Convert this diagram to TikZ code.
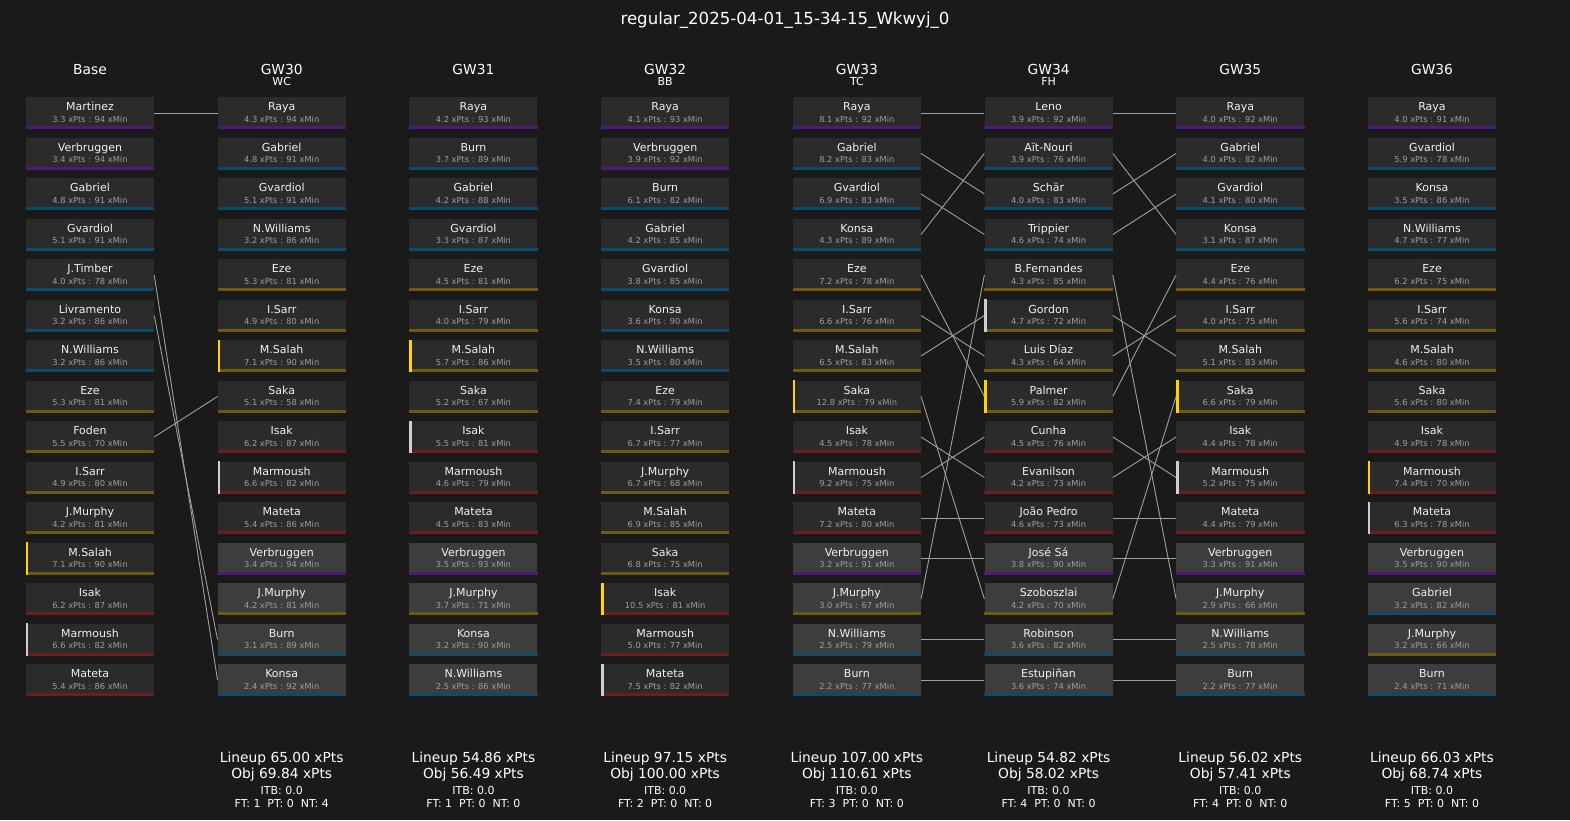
\documentclass[tikz,border=0pt]{standalone}
\usepackage{fontspec}
\setmainfont{DejaVu Sans}
\definecolor{bg}{HTML}{1A1A1A}
\definecolor{boxfill}{HTML}{2B2B2B}
\definecolor{benchfill}{HTML}{3D3D3D}
\definecolor{gk}{HTML}{4E1A7E}
\definecolor{df}{HTML}{0F4A6A}
\definecolor{md}{HTML}{6E5A0F}
\definecolor{fw}{HTML}{6E1C1C}
\definecolor{capc}{HTML}{FFD500}
\definecolor{vicec}{HTML}{CFCFCF}
\definecolor{nmc}{HTML}{F0F0F0}
\definecolor{stc}{HTML}{9E9E9E}
\definecolor{lnc}{HTML}{A0A0A0}
\newcommand{\plyr}[7]{%
  \pgfmathsetmacro\plx{90+191.714*#1}%
  \pgfmathsetmacro\ply{113+40.5*#2}%
  \node[plbox,#7] (c#1r#2) at (\plx,\ply) {};%
  \fill[#6] (c#1r#2.south west) rectangle ([yshift=2.8pt]c#1r#2.south east);%
  \node[nametxt] at ([yshift=-13.8pt]c#1r#2.north) {#3};%
  \node[stattxt] at ([yshift=-25.6pt]c#1r#2.north) {#4 xPts : #5 xMin};%
}
\newcommand{\capbar}[3]{%
  \fill[#3] (c#1r#2.north west) rectangle ([xshift=2.6pt]c#1r#2.south west);%
}
\newcommand{\foot}[5]{%
  \pgfmathsetmacro\plx{90+191.714*#1}%
  \node[ftbig] (fa#1) at (\plx,762.5) {Lineup #2 xPts};%
  \node[ftbig] (fb#1) at (\plx,778) {Obj #3 xPts};%
  \node[ftsmall] (fc#1) at (\plx,794) {ITB: 0.0};%
  \node[ftsmall] (fd#1) at (\plx,807.3) {FT: #4\ \ PT: 0\ \ NT: #5};%
}
\begin{document}
\begin{tikzpicture}[x=1pt,y=-1pt,
  plbox/.style={rectangle,minimum width=128pt,minimum height=32pt,inner sep=0pt,fill=boxfill,draw=none},
  bench/.style={fill=benchfill},
  nametxt/.style={anchor=base,inner sep=0pt,text=nmc,font=\fontsize{11}{13}\selectfont},
  stattxt/.style={anchor=base,inner sep=0pt,text=stc,font=\fontsize{8.3}{10}\selectfont},
  hdr/.style={anchor=base,inner sep=0pt,text=white,font=\fontsize{13.8}{16}\selectfont},
  subhdr/.style={anchor=base,inner sep=0pt,text=white,font=\fontsize{11}{13}\selectfont},
  ftbig/.style={anchor=base,inner sep=0pt,text=white,font=\fontsize{13.8}{16}\selectfont},
  ftsmall/.style={anchor=base,inner sep=0pt,text=white,font=\fontsize{11}{13}\selectfont},
  conn/.style={draw=lnc,line width=0.9pt}]
\fill[bg] (0,0) rectangle (1570,820);
\useasboundingbox (0,0) rectangle (1570,820);
\node[anchor=base,inner sep=0pt,text=white,font=\fontsize{16.6}{19}\selectfont] (title) at (785,24) {regular\_2025-04-01\_15-34-15\_Wkwyj\_0};
% headers
\node[hdr] (h0) at (90,74) {Base};
\node[hdr] (h1) at (281.7,74) {GW30};
\node[hdr] (h2) at (473.4,74) {GW31};
\node[hdr] (h3) at (665.1,74) {GW32};
\node[hdr] (h4) at (856.9,74) {GW33};
\node[hdr] (h5) at (1048.6,74) {GW34};
\node[hdr] (h6) at (1240.3,74) {GW35};
\node[hdr] (h7) at (1432,74) {GW36};
\node[subhdr] (s1) at (281.7,85) {WC};
\node[subhdr] (s3) at (665.1,85) {BB};
\node[subhdr] (s4) at (856.9,85) {TC};
\node[subhdr] (s5) at (1048.6,85) {FH};
% column 0
\plyr{0}{0}{Martinez}{3.3}{94}{gk}{}
\plyr{0}{1}{Verbruggen}{3.4}{94}{gk}{}
\plyr{0}{2}{Gabriel}{4.8}{91}{df}{}
\plyr{0}{3}{Gvardiol}{5.1}{91}{df}{}
\plyr{0}{4}{J.Timber}{4.0}{78}{df}{}
\plyr{0}{5}{Livramento}{3.2}{86}{df}{}
\plyr{0}{6}{N.Williams}{3.2}{86}{df}{}
\plyr{0}{7}{Eze}{5.3}{81}{md}{}
\plyr{0}{8}{Foden}{5.5}{70}{md}{}
\plyr{0}{9}{I.Sarr}{4.9}{80}{md}{}
\plyr{0}{10}{J.Murphy}{4.2}{81}{md}{}
\plyr{0}{11}{M.Salah}{7.1}{90}{md}{}
\plyr{0}{12}{Isak}{6.2}{87}{fw}{}
\plyr{0}{13}{Marmoush}{6.6}{82}{fw}{}
\plyr{0}{14}{Mateta}{5.4}{86}{fw}{}
\capbar{0}{11}{capc}\capbar{0}{13}{vicec}
% column 1
\plyr{1}{0}{Raya}{4.3}{94}{gk}{}
\plyr{1}{1}{Gabriel}{4.8}{91}{df}{}
\plyr{1}{2}{Gvardiol}{5.1}{91}{df}{}
\plyr{1}{3}{N.Williams}{3.2}{86}{df}{}
\plyr{1}{4}{Eze}{5.3}{81}{md}{}
\plyr{1}{5}{I.Sarr}{4.9}{80}{md}{}
\plyr{1}{6}{M.Salah}{7.1}{90}{md}{}
\plyr{1}{7}{Saka}{5.1}{58}{md}{}
\plyr{1}{8}{Isak}{6.2}{87}{fw}{}
\plyr{1}{9}{Marmoush}{6.6}{82}{fw}{}
\plyr{1}{10}{Mateta}{5.4}{86}{fw}{}
\plyr{1}{11}{Verbruggen}{3.4}{94}{gk}{bench}
\plyr{1}{12}{J.Murphy}{4.2}{81}{md}{bench}
\plyr{1}{13}{Burn}{3.1}{89}{df}{bench}
\plyr{1}{14}{Konsa}{2.4}{92}{df}{bench}
\capbar{1}{6}{capc}\capbar{1}{9}{vicec}
% column 2
\plyr{2}{0}{Raya}{4.2}{93}{gk}{}
\plyr{2}{1}{Burn}{3.7}{89}{df}{}
\plyr{2}{2}{Gabriel}{4.2}{88}{df}{}
\plyr{2}{3}{Gvardiol}{3.3}{87}{df}{}
\plyr{2}{4}{Eze}{4.5}{81}{md}{}
\plyr{2}{5}{I.Sarr}{4.0}{79}{md}{}
\plyr{2}{6}{M.Salah}{5.7}{86}{md}{}
\plyr{2}{7}{Saka}{5.2}{67}{md}{}
\plyr{2}{8}{Isak}{5.5}{81}{fw}{}
\plyr{2}{9}{Marmoush}{4.6}{79}{fw}{}
\plyr{2}{10}{Mateta}{4.5}{83}{fw}{}
\plyr{2}{11}{Verbruggen}{3.5}{93}{gk}{bench}
\plyr{2}{12}{J.Murphy}{3.7}{71}{md}{bench}
\plyr{2}{13}{Konsa}{3.2}{90}{df}{bench}
\plyr{2}{14}{N.Williams}{2.5}{86}{df}{bench}
\capbar{2}{6}{capc}\capbar{2}{8}{vicec}
% column 3
\plyr{3}{0}{Raya}{4.1}{93}{gk}{}
\plyr{3}{1}{Verbruggen}{3.9}{92}{gk}{}
\plyr{3}{2}{Burn}{6.1}{82}{df}{}
\plyr{3}{3}{Gabriel}{4.2}{85}{df}{}
\plyr{3}{4}{Gvardiol}{3.8}{85}{df}{}
\plyr{3}{5}{Konsa}{3.6}{90}{df}{}
\plyr{3}{6}{N.Williams}{3.5}{80}{df}{}
\plyr{3}{7}{Eze}{7.4}{79}{md}{}
\plyr{3}{8}{I.Sarr}{6.7}{77}{md}{}
\plyr{3}{9}{J.Murphy}{6.7}{68}{md}{}
\plyr{3}{10}{M.Salah}{6.9}{85}{md}{}
\plyr{3}{11}{Saka}{6.8}{75}{md}{}
\plyr{3}{12}{Isak}{10.5}{81}{fw}{}
\plyr{3}{13}{Marmoush}{5.0}{77}{fw}{}
\plyr{3}{14}{Mateta}{7.5}{82}{fw}{}
\capbar{3}{12}{capc}\capbar{3}{14}{vicec}
% column 4
\plyr{4}{0}{Raya}{8.1}{92}{gk}{}
\plyr{4}{1}{Gabriel}{8.2}{83}{df}{}
\plyr{4}{2}{Gvardiol}{6.9}{83}{df}{}
\plyr{4}{3}{Konsa}{4.3}{89}{df}{}
\plyr{4}{4}{Eze}{7.2}{78}{md}{}
\plyr{4}{5}{I.Sarr}{6.6}{76}{md}{}
\plyr{4}{6}{M.Salah}{6.5}{83}{md}{}
\plyr{4}{7}{Saka}{12.8}{79}{md}{}
\plyr{4}{8}{Isak}{4.5}{78}{fw}{}
\plyr{4}{9}{Marmoush}{9.2}{75}{fw}{}
\plyr{4}{10}{Mateta}{7.2}{80}{fw}{}
\plyr{4}{11}{Verbruggen}{3.2}{91}{gk}{bench}
\plyr{4}{12}{J.Murphy}{3.0}{67}{md}{bench}
\plyr{4}{13}{N.Williams}{2.5}{79}{df}{bench}
\plyr{4}{14}{Burn}{2.2}{77}{df}{bench}
\capbar{4}{7}{capc}\capbar{4}{9}{vicec}
% column 5
\plyr{5}{0}{Leno}{3.9}{92}{gk}{}
\plyr{5}{1}{Aït-Nouri}{3.9}{76}{df}{}
\plyr{5}{2}{Schär}{4.0}{83}{df}{}
\plyr{5}{3}{Trippier}{4.6}{74}{df}{}
\plyr{5}{4}{B.Fernandes}{4.3}{85}{md}{}
\plyr{5}{5}{Gordon}{4.7}{72}{md}{}
\plyr{5}{6}{Luis Díaz}{4.3}{64}{md}{}
\plyr{5}{7}{Palmer}{5.9}{82}{md}{}
\plyr{5}{8}{Cunha}{4.5}{76}{fw}{}
\plyr{5}{9}{Evanilson}{4.2}{73}{fw}{}
\plyr{5}{10}{João Pedro}{4.6}{73}{fw}{}
\plyr{5}{11}{José Sá}{3.8}{90}{gk}{bench}
\plyr{5}{12}{Szoboszlai}{4.2}{70}{md}{bench}
\plyr{5}{13}{Robinson}{3.6}{82}{df}{bench}
\plyr{5}{14}{Estupiñan}{3.6}{74}{df}{bench}
\capbar{5}{7}{capc}\capbar{5}{5}{vicec}
% column 6
\plyr{6}{0}{Raya}{4.0}{92}{gk}{}
\plyr{6}{1}{Gabriel}{4.0}{82}{df}{}
\plyr{6}{2}{Gvardiol}{4.1}{80}{df}{}
\plyr{6}{3}{Konsa}{3.1}{87}{df}{}
\plyr{6}{4}{Eze}{4.4}{76}{md}{}
\plyr{6}{5}{I.Sarr}{4.0}{75}{md}{}
\plyr{6}{6}{M.Salah}{5.1}{83}{md}{}
\plyr{6}{7}{Saka}{6.6}{79}{md}{}
\plyr{6}{8}{Isak}{4.4}{78}{fw}{}
\plyr{6}{9}{Marmoush}{5.2}{75}{fw}{}
\plyr{6}{10}{Mateta}{4.4}{79}{fw}{}
\plyr{6}{11}{Verbruggen}{3.3}{91}{gk}{bench}
\plyr{6}{12}{J.Murphy}{2.9}{66}{md}{bench}
\plyr{6}{13}{N.Williams}{2.5}{78}{df}{bench}
\plyr{6}{14}{Burn}{2.2}{77}{df}{bench}
\capbar{6}{7}{capc}\capbar{6}{9}{vicec}
% column 7
\plyr{7}{0}{Raya}{4.0}{91}{gk}{}
\plyr{7}{1}{Gvardiol}{5.9}{78}{df}{}
\plyr{7}{2}{Konsa}{3.5}{86}{df}{}
\plyr{7}{3}{N.Williams}{4.7}{77}{df}{}
\plyr{7}{4}{Eze}{6.2}{75}{md}{}
\plyr{7}{5}{I.Sarr}{5.6}{74}{md}{}
\plyr{7}{6}{M.Salah}{4.6}{80}{md}{}
\plyr{7}{7}{Saka}{5.6}{80}{md}{}
\plyr{7}{8}{Isak}{4.9}{78}{fw}{}
\plyr{7}{9}{Marmoush}{7.4}{70}{fw}{}
\plyr{7}{10}{Mateta}{6.3}{78}{fw}{}
\plyr{7}{11}{Verbruggen}{3.5}{90}{gk}{bench}
\plyr{7}{12}{Gabriel}{3.2}{82}{df}{bench}
\plyr{7}{13}{J.Murphy}{3.2}{66}{md}{bench}
\plyr{7}{14}{Burn}{2.4}{71}{df}{bench}
\capbar{7}{9}{capc}\capbar{7}{10}{vicec}
% connectors base -> GW30
\foreach \a/\b in {0/0,4/14,5/13,8/7}
  \draw[conn] (c0r\a.east) -- (c1r\b.west);
% GW33 -> GW34
\foreach \a/\b in {0/0,1/2,2/3,3/1,4/7,5/6,6/5,7/12,8/9,9/8,10/10,11/11,12/4,13/13,14/14}
  \draw[conn] (c4r\a.east) -- (c5r\b.west);
% GW34 -> GW35
\foreach \a/\b in {0/0,1/3,2/1,3/2,4/12,5/6,6/5,7/4,8/9,9/8,10/10,11/11,12/7,13/13,14/14}
  \draw[conn] (c5r\a.east) -- (c6r\b.west);
% footers
\foot{1}{65.00}{69.84}{1}{4}
\foot{2}{54.86}{56.49}{1}{0}
\foot{3}{97.15}{100.00}{2}{0}
\foot{4}{107.00}{110.61}{3}{0}
\foot{5}{54.82}{58.02}{4}{0}
\foot{6}{56.02}{57.41}{4}{0}
\foot{7}{66.03}{68.74}{5}{0}
\end{tikzpicture}
\end{document}
